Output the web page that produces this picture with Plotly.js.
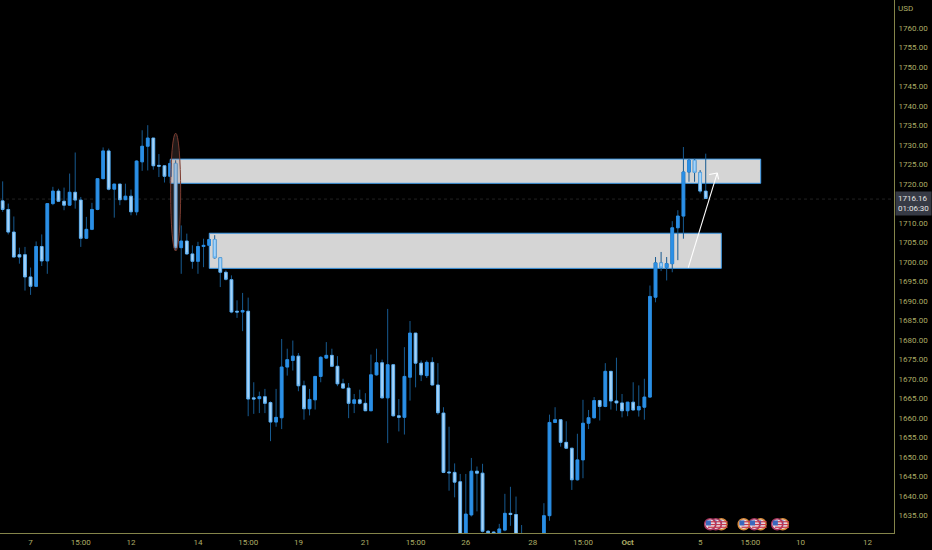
<!DOCTYPE html>
<html>
<head>
<meta charset="utf-8">
<script src="https://cdn.plot.ly/plotly-3.0.1.min.js"></script>
<style>html,body{margin:0;padding:0;background:#000;}#chart{width:932px;height:550px;}</style>
</head>
<body>
<div id="chart"></div>
<script>
const openPrices = [1715.7,1713.5,1707.7,1701.9,1701.9,1696.2,1693.8,1704.0,1700.3,1715.0,1718.2,1715.6,1714.6,1717.9,1715.9,1706.1,1708.4,1713.5,1721.4,1728.5,1718.7,1720.0,1716.0,1716.9,1712.9,1725.7,1729.7,1731.8,1724.8,1724.7,1722.0,1725.3,1703.7,1705.4,1702.1,1700.2,1704.0,1704.3,1705.8,1701.1,1697.4,1695.5,1687.4,1687.2,1687.4,1665.2,1665.0,1665.5,1664.0,1659.0,1660.1,1673.1,1674.8,1675.9,1668.3,1662.4,1664.7,1670.7,1675.4,1676.1,1673.3,1668.8,1667.7,1663.8,1664.7,1663.8,1661.9,1671.1,1674.2,1665.2,1673.7,1660.6,1660.2,1670.5,1681.8,1674.1,1670.9,1674.3,1668.5,1661.3,1646.2,1646.1,1643.7,1628.0,1635.2,1646.4,1645.9,1631.0,1630.8,1630.4,1631.3,1635.6,1635.3,1628.0,1628.0,1627.0,1625.0,1627.0,1635.0,1658.9,1659.6,1653.8,1652.3,1644.2,1649.3,1658.7,1660.1,1664.5,1663.0,1672.0,1664.4,1663.9,1661.9,1664.1,1662.1,1662.8,1665.4,1691.0,1699.8,1698.6,1699.6,1708.8,1711.8,1723.1,1726.1,1723.0,1718.2];
const highPrices = [1720.7,1715.0,1711.7,1703.7,1703.9,1698.6,1705.3,1707.1,1715.0,1719.3,1718.8,1719.1,1722.7,1728.1,1716.7,1711.6,1715.2,1721.4,1729.4,1729.1,1720.0,1720.0,1720.1,1718.6,1726.1,1733.8,1735.1,1731.8,1727.7,1724.8,1726.1,1726.1,1709.4,1707.3,1704.3,1705.2,1706.0,1706.0,1706.9,1701.1,1697.9,1696.6,1690.2,1692.1,1690.9,1669.2,1666.8,1667.5,1664.3,1667.5,1680.3,1677.8,1679.9,1676.7,1669.6,1667.5,1670.7,1675.9,1679.5,1677.8,1675.9,1670.1,1669.0,1666.2,1667.3,1666.4,1676.3,1677.8,1675.0,1688.0,1673.9,1664.9,1678.2,1684.9,1681.8,1674.8,1674.8,1675.6,1674.1,1662.8,1657.8,1648.4,1645.7,1645.7,1649.8,1647.6,1648.3,1631.3,1631.0,1632.9,1640.6,1642.4,1639.9,1632.6,1629.0,1629.0,1629.0,1638.2,1660.9,1662.8,1659.6,1659.2,1652.3,1656.0,1664.7,1662.1,1665.4,1664.7,1674.1,1672.0,1675.5,1666.2,1664.1,1669.2,1668.4,1670.1,1694.0,1701.3,1702.6,1701.3,1710.5,1713.3,1729.5,1726.5,1726.5,1723.6,1727.8];
const lowPrices = [1712.9,1707.1,1701.3,1699.6,1692.7,1691.6,1693.6,1699.0,1697.0,1714.6,1715.4,1713.3,1714.4,1713.7,1703.9,1705.9,1708.2,1713.3,1721.2,1718.4,1711.4,1714.6,1715.9,1712.0,1712.0,1723.4,1723.5,1723.7,1721.8,1720.4,1721.8,1703.0,1697.0,1701.9,1698.3,1697.0,1698.7,1704.1,1700.9,1693.6,1695.3,1686.9,1685.7,1682.3,1660.5,1661.1,1661.3,1661.3,1654.1,1657.8,1657.2,1670.9,1672.2,1666.9,1659.6,1660.7,1662.2,1669.2,1675.2,1673.3,1668.2,1667.5,1660.0,1661.3,1663.5,1661.8,1661.8,1670.9,1665.0,1653.6,1660.4,1656.6,1655.8,1664.5,1667.9,1669.5,1670.3,1668.4,1660.9,1645.9,1641.4,1639.7,1626.0,1626.0,1634.8,1636.1,1630.7,1629.0,1629.0,1630.0,1631.0,1632.4,1626.0,1625.0,1625.0,1624.0,1624.0,1626.0,1633.7,1658.8,1652.7,1652.1,1641.6,1644.0,1644.6,1657.2,1659.9,1659.4,1662.8,1662.2,1661.9,1660.2,1660.5,1661.9,1660.4,1659.6,1665.2,1689.7,1697.7,1695.3,1697.4,1700.5,1706.0,1720.6,1720.6,1717.6,1716.2];
const closePrices = [1713.5,1707.7,1701.3,1701.3,1696.2,1693.8,1704.0,1700.3,1715.0,1718.2,1715.6,1714.6,1717.9,1715.9,1706.1,1708.4,1713.5,1721.4,1728.5,1718.7,1720.0,1716.0,1716.9,1712.9,1725.9,1729.7,1731.8,1724.7,1724.6,1722.0,1725.3,1703.7,1705.4,1702.1,1700.2,1704.0,1704.3,1705.8,1701.1,1697.4,1695.6,1687.2,1687.2,1687.6,1664.9,1664.9,1665.5,1663.8,1659.0,1660.2,1673.1,1675.0,1675.9,1668.3,1662.4,1664.8,1670.7,1675.6,1676.1,1673.3,1668.8,1667.7,1663.8,1664.7,1663.8,1661.9,1671.1,1674.2,1665.2,1673.7,1660.6,1660.2,1670.7,1681.8,1674.1,1671.1,1674.3,1668.5,1661.4,1646.1,1646.0,1643.6,1628.0,1635.4,1646.4,1645.9,1631.0,1630.6,1630.6,1631.6,1635.6,1635.3,1628.0,1626.0,1626.0,1625.0,1628.0,1635.0,1658.9,1659.6,1653.8,1652.3,1644.2,1649.3,1658.7,1660.1,1664.5,1663.0,1672.0,1664.4,1663.9,1661.9,1664.1,1662.1,1663.0,1665.4,1691.2,1699.8,1698.6,1699.6,1708.8,1711.8,1723.1,1726.1,1723.0,1718.2,1716.3];

const xTickIndex = [5,14,23,35,44,53,65,74,83,95,104,112,125,134,143,155];
const xTickLabels = ['7','15:00','12','14','15:00','19','21','15:00','26','28','15:00','<b>Oct</b>','5','15:00','10','12'];
const priceTicks = [1635,1640,1645,1650,1655,1660,1665,1670,1675,1680,1685,1690,1695,1700,1705,1710,1720,1725,1730,1735,1740,1745,1750,1755,1760];
const lastPrice = 1716.16;
const countdown = '01:06:30';
const currency = 'USD';
const upperZone = {x0:30.04, x1:135.85, y0:1720.2, y1:1726.4};
const lowerZone = {x0:37.03, x1:128.79, y0:1698.4, y1:1707.4};
const flagIndex = [139.8,138.8,135.8,134.7,132.8,128.8,127.8,126.8];
const flagRing = ['#d98a3a','#a8365f','#d98a3a','#a8365f','#d98a3a','#d98a3a','#a8365f','#a8365f'];
const flagPrice = 1632.8;

const candleX = openPrices.map((_, i) => i);
const bodyHigh = openPrices.map((o, i) => Math.max(o, closePrices[i]));
const bodyLow = openPrices.map((o, i) => Math.min(o, closePrices[i]));
const WICK = '#175a90', UP = '#2b8fe6', DOWNFILL = '#a6d3f8', DOWNLINE = '#62b2f3';
const AXISTEXT = '#adad66';

const traces = [
  {type:'candlestick', x:candleX, open:openPrices, high:highPrices, low:lowPrices, close:closePrices,
   whiskerwidth:0, hoverinfo:'skip', showlegend:false,
   increasing:{line:{color:WICK,width:1},fillcolor:WICK},
   decreasing:{line:{color:WICK,width:1},fillcolor:WICK}},
  {type:'candlestick', x:candleX, open:openPrices, high:bodyHigh, low:bodyLow, close:closePrices,
   whiskerwidth:0, hoverinfo:'skip', showlegend:false,
   increasing:{line:{color:UP,width:0.8},fillcolor:UP},
   decreasing:{line:{color:DOWNLINE,width:0.8},fillcolor:DOWNFILL}}
];

const pxX = 1/5.58, pxY = 1/3.896;
flagIndex.forEach((fx, i) => {
  traces.push({type:'scatter', mode:'markers', x:[fx], y:[flagPrice], hoverinfo:'skip', showlegend:false, cliponaxis:false,
    marker:{symbol:'circle', size:11, color:'#ead9df', line:{color:flagRing[i], width:1.5}}});
  traces.push({type:'scatter', mode:'markers', x:[fx+2*pxX, fx+2*pxX, fx+2*pxX], y:[flagPrice+2.5*pxY, flagPrice-0.3*pxY, flagPrice-3*pxY],
    hoverinfo:'skip', showlegend:false, cliponaxis:false,
    marker:{symbol:'line-ew', size:6, line:{color:'#c8374e', width:1.2}}});
  traces.push({type:'scatter', mode:'markers', x:[fx-1.8*pxX], y:[flagPrice+1.3*pxY], hoverinfo:'skip', showlegend:false, cliponaxis:false,
    marker:{symbol:'square', size:5, color:'#3a68bd'}});
});

const zoneStyle = {type:'rect', xref:'x', yref:'y', layer:'below', fillcolor:'#d5d5d5', line:{color:'#3f9be8', width:1}};
const arrowLine = {color:'#ffffff', width:1.1};
const layout = {
  width:932, height:550,
  margin:{l:0, r:38, t:0, b:17, pad:0},
  paper_bgcolor:'#000000', plot_bgcolor:'#000000',
  showlegend:false,
  font:{family:'Roboto, "Liberation Sans", sans-serif', size:8, color:AXISTEXT},
  xaxis:{range:[-0.478,159.74], rangeslider:{visible:false}, type:'linear',
    tickmode:'array', tickvals:xTickIndex, ticktext:xTickLabels,
    showgrid:false, zeroline:false, showline:true, linecolor:'#84844a', linewidth:1,
    ticks:'outside', ticklen:1, tickcolor:'#000000', tickfont:{size:8, color:AXISTEXT}},
  yaxis:{range:[1630.56,1767.19], side:'right', tickmode:'array', tickvals:priceTicks,
    ticktext:priceTicks.map(v => v.toFixed(2)),
    showgrid:false, zeroline:false, showline:true, linecolor:'#84844a', linewidth:1,
    ticks:'outside', ticklen:2, tickcolor:'#000000', tickfont:{size:8, color:AXISTEXT}},
  shapes:[
    {type:'line', xref:'paper', x0:0, x1:1, yref:'y', y0:lastPrice, y1:lastPrice, layer:'below', line:{color:'#222222', width:1, dash:'dot'}},
    Object.assign({}, zoneStyle, upperZone),
    Object.assign({}, zoneStyle, lowerZone),
    {type:'circle', xref:'x', yref:'y', x0:30.1, x1:31.9, y0:1702.84, y1:1733.05, layer:'above',
     fillcolor:'rgba(150,120,115,0.22)', line:{color:'#7d3c30', width:1}},
    {type:'line', xref:'x', yref:'y', x0:122.87, y0:1698.6, x1:128.07, y1:1722.86, line:arrowLine},
    {type:'line', xref:'x', yref:'y', x0:126.63, y0:1722.45, x1:128.07, y1:1722.86, line:arrowLine},
    {type:'line', xref:'x', yref:'y', x0:128.3, y0:1721.2, x1:128.07, y1:1722.86, line:arrowLine}
  ],
  annotations:[
    {xref:'paper', yref:'paper', x:1, y:1, xanchor:'left', yanchor:'middle', xshift:2, yshift:-8, text:currency, showarrow:false,
     font:{size:8, color:AXISTEXT}},
    {xref:'paper', yref:'y', x:1, y:lastPrice, xanchor:'left', yanchor:'middle', yshift:-4, xshift:0.5, showarrow:false, align:'left',
     text:lastPrice.toFixed(2)+'<br>'+countdown, bgcolor:'#363a45', borderpad:2,
     font:{size:8, color:'#e4e4e4'}}
  ]
};
Plotly.newPlot('chart', traces, layout, {displayModeBar:false, staticPlot:true});
</script>
</body>
</html>
